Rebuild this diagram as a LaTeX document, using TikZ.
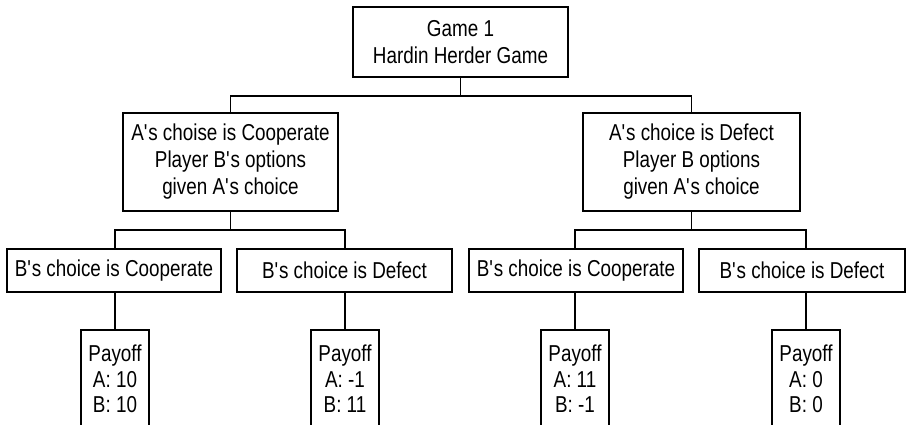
\documentclass[tikz,border=0pt]{standalone}
\usepackage{fontspec}
\setmainfont{Liberation Sans}[FakeStretch=0.82]
\newcommand{\ap}{\textquotesingle}
\begin{document}
\begin{tikzpicture}[x=1pt,y=-1pt,
  box/.style={draw,line width=1.6pt,inner sep=0pt,align=center,
    font=\fontsize{23}{27}\selectfont},
  pay/.style={box,minimum width=68pt,minimum height=98pt,
    font=\fontsize{23}{25.5}\selectfont},
  link/.style={line width=1.2pt}]
\useasboundingbox (0,0) rectangle (907,425);
\clip (0,0) rectangle (907,425);
\node[box,minimum width=215pt,minimum height=70pt] (top) at (460.5,42) {Game 1\\Hardin Herder Game};
\node[box,minimum width=215pt,minimum height=98pt] (ml) at (230.5,162) {A\ap s choise is Cooperate\\Player B\ap s options\\given A\ap s choice};
\node[box,minimum width=217pt,minimum height=98pt] (mr) at (691.5,162) {A\ap s choice is Defect\\Player B options\\given A\ap s choice};
\node[box,minimum width=214pt,minimum height=43pt] (b1) at (114,270.5) {B\ap s choice is Cooperate};
\node[box,minimum width=215pt,minimum height=43pt] (b2) at (344.5,270.5) {B\ap s choice is Defect};
\node[box,minimum width=214pt,minimum height=43pt] (b3) at (576,270.5) {B\ap s choice is Cooperate};
\node[box,minimum width=206pt,minimum height=43pt] (b4) at (802,270.5) {B\ap s choice is Defect};
\node[pay] (p1) at (115,379) {Payoff\\A: 10\\B: 10};
\node[pay] (p2) at (345,379) {Payoff\\A: -1\\B: 11};
\node[pay] (p3) at (575,379) {Payoff\\A: 11\\B: -1};
\node[pay] (p4) at (806,379) {Payoff\\A: 0\\B: 0};
\coordinate (bus1) at (0,96);
\coordinate (bus2) at (0,230);
\draw[link] (top.south) -- (top.south |- bus1);
\draw[link] (ml.north) -- (ml.north |- bus1) -| (mr.north);
\draw[link] (ml.south) -- (ml.south |- bus2);
\draw[link] (mr.south) -- (mr.south |- bus2);
\draw[link] (p1.north |- b1.north) -- (p1.north |- bus2) -| (p2.north |- b2.north);
\draw[link] (p3.north |- b3.north) -- (p3.north |- bus2) -| (p4.north |- b4.north);
\draw[link] (p1.north) -- (p1.north |- b1.south);
\draw[link] (p2.north) -- (p2.north |- b2.south);
\draw[link] (p3.north) -- (p3.north |- b3.south);
\draw[link] (p4.north) -- (p4.north |- b4.south);
\end{tikzpicture}
\end{document}
